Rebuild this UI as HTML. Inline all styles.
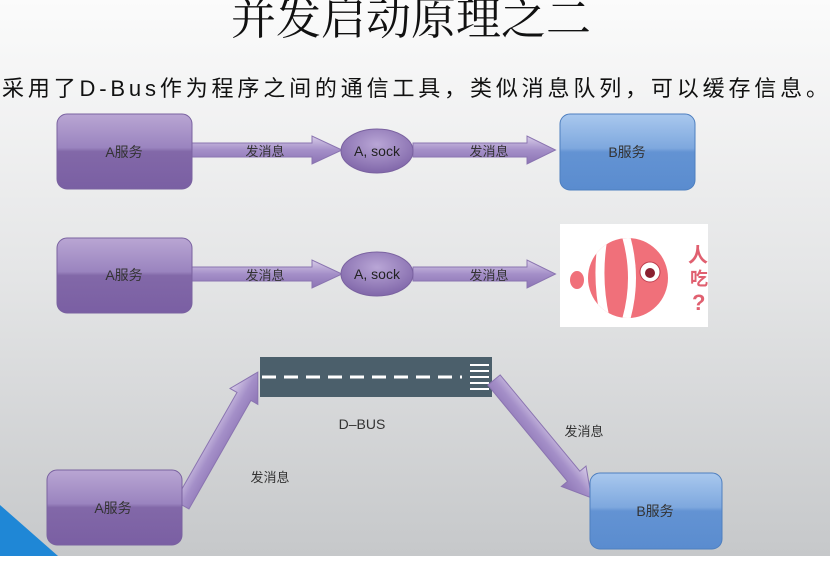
<!DOCTYPE html>
<html><head><meta charset="utf-8"><style>
html,body{margin:0;padding:0;}
body{width:830px;height:556px;overflow:hidden;}
svg text{font-family:"Liberation Sans","Noto Sans CJK SC",sans-serif;}
</style></head><body>
<svg width="830" height="556" viewBox="0 0 830 556" xmlns="http://www.w3.org/2000/svg">
<defs>
<linearGradient id="bg" x1="0" y1="0" x2="0" y2="1">
<stop offset="0" stop-color="#fbfbfb"/><stop offset="0.5" stop-color="#e4e5e6"/><stop offset="1" stop-color="#c6c8ca"/></linearGradient>
<linearGradient id="pbox" x1="0" y1="0" x2="0" y2="1">
<stop offset="0" stop-color="#b9a6d3"/><stop offset="0.45" stop-color="#9a84bf"/><stop offset="0.5" stop-color="#8268a8"/><stop offset="1" stop-color="#7a5fa3"/></linearGradient>
<linearGradient id="bbox" x1="0" y1="0" x2="0" y2="1">
<stop offset="0" stop-color="#a9c8ee"/><stop offset="0.45" stop-color="#7ea8de"/><stop offset="0.5" stop-color="#6393d3"/><stop offset="1" stop-color="#5a8ccf"/></linearGradient>
<linearGradient id="arr" x1="0" y1="0" x2="0" y2="1">
<stop offset="0" stop-color="#d8cde8"/><stop offset="0.5" stop-color="#a48fc8"/><stop offset="1" stop-color="#8c74b4"/></linearGradient>
<radialGradient id="ell" cx="0.5" cy="0.35" r="0.7">
<stop offset="0" stop-color="#b9a6d6"/><stop offset="1" stop-color="#7c62a6"/></radialGradient>
<clipPath id="fc"><circle cx="628" cy="278" r="40"/></clipPath>
<g id="harr"><polygon points="0,-7 120,-7 120,-14 150,0 120,14 120,7 0,7" fill="url(#arr)" stroke="#8a74b0" stroke-width="1"/></g>
<g id="darr"><polygon points="0,-8 125,-8 125,-16 153,0 125,16 125,8 0,8" fill="url(#arr)" stroke="#8a74b0" stroke-width="1"/></g>
</defs>
<rect width="830" height="556" fill="url(#bg)"/>
<polygon points="0,505 0,556 58,556" fill="#1f87d6"/>
<text x="411" y="34" font-size="45" text-anchor="middle" fill="#111" style="font-family:'Noto Serif CJK SC','Liberation Serif',serif">并发启动原理之二</text>
<text x="415" y="96" font-size="22" text-anchor="middle" fill="#111" textLength="826">采用了D-Bus作为程序之间的通信工具，类似消息队列，可以缓存信息。</text>

<use href="#harr" x="192" y="150"/>
<use href="#harr" x="413" y="150" transform="translate(413 150) scale(0.95 1) translate(-413 -150)"/>
<rect x="57" y="114" width="135" height="75" rx="10" fill="url(#pbox)" stroke="#7a62a0"/>
<text x="124" y="157" font-size="14" text-anchor="middle" fill="#333">A服务</text>
<ellipse cx="377" cy="151" rx="36" ry="22" fill="url(#ell)" stroke="#7a62a0"/>
<text x="377" y="156" font-size="14" text-anchor="middle" fill="#222">A, sock</text>
<text x="265" y="156" font-size="13" text-anchor="middle" fill="#333">发消息</text>
<text x="489" y="156" font-size="13" text-anchor="middle" fill="#333">发消息</text>
<rect x="560" y="114" width="135" height="76" rx="10" fill="url(#bbox)" stroke="#4e7fbf"/>
<text x="627" y="157" font-size="14" text-anchor="middle" fill="#333">B服务</text>

<use href="#harr" x="192" y="274"/>
<use href="#harr" x="413" y="274" transform="translate(413 274) scale(0.95 1) translate(-413 -274)"/>
<rect x="57" y="238" width="135" height="75" rx="10" fill="url(#pbox)" stroke="#7a62a0"/>
<text x="124" y="280" font-size="14" text-anchor="middle" fill="#333">A服务</text>
<ellipse cx="377" cy="274" rx="36" ry="22" fill="url(#ell)" stroke="#7a62a0"/>
<text x="377" y="279" font-size="14" text-anchor="middle" fill="#222">A, sock</text>
<text x="265" y="280" font-size="13" text-anchor="middle" fill="#333">发消息</text>
<text x="489" y="280" font-size="13" text-anchor="middle" fill="#333">发消息</text>
<rect x="560" y="224" width="148" height="103" fill="#fff"/>
<ellipse cx="577" cy="280" rx="7" ry="9" fill="#f0707a"/>
<circle cx="628" cy="278" r="40" fill="#f0707a"/>
<g clip-path="url(#fc)">
<path d="M603,238 Q596,278 605,318" stroke="#fff" stroke-width="9" fill="none"/>
<path d="M626,236 Q638,278 626,320" stroke="#fff" stroke-width="8" fill="none"/>
</g>
<circle cx="650" cy="272" r="10" fill="#fff" stroke="#c04050"/>
<circle cx="650" cy="273" r="5" fill="#8a2030"/>
<text x="688" y="262" font-size="20" fill="#e06070" font-weight="bold" style="font-family:'Noto Sans CJK SC',sans-serif">人</text>
<text x="690" y="285" font-size="18" fill="#e06070" font-weight="bold" style="font-family:'Noto Sans CJK SC',sans-serif">吃</text>
<text x="692" y="310" font-size="22" fill="#e06070" font-weight="bold">?</text>

<rect x="260" y="357" width="232" height="40" fill="#4b5f6b"/>
<line x1="262" y1="377" x2="462" y2="377" stroke="#fff" stroke-width="3" stroke-dasharray="14,8"/>
<g stroke="#fff" stroke-width="2"><line x1="470" y1="365" x2="489" y2="365"/><line x1="470" y1="371" x2="489" y2="371"/><line x1="470" y1="377" x2="489" y2="377"/><line x1="470" y1="383" x2="489" y2="383"/><line x1="470" y1="389" x2="489" y2="389"/></g>
<text x="362" y="429" font-size="14" text-anchor="middle" fill="#333">D–BUS</text>

<use href="#darr" transform="translate(182 505) rotate(-60.3)"/>
<use href="#darr" transform="translate(494 380) rotate(50.4)"/>
<text x="270" y="482" font-size="13" text-anchor="middle" fill="#333">发消息</text>
<text x="584" y="436" font-size="13" text-anchor="middle" fill="#333">发消息</text>
<rect x="47" y="470" width="135" height="75" rx="10" fill="url(#pbox)" stroke="#7a62a0"/>
<text x="113" y="513" font-size="14" text-anchor="middle" fill="#333">A服务</text>
<rect x="590" y="473" width="132" height="76" rx="10" fill="url(#bbox)" stroke="#4e7fbf"/>
<text x="655" y="516" font-size="14" text-anchor="middle" fill="#333">B服务</text>
</svg>
</body></html>
